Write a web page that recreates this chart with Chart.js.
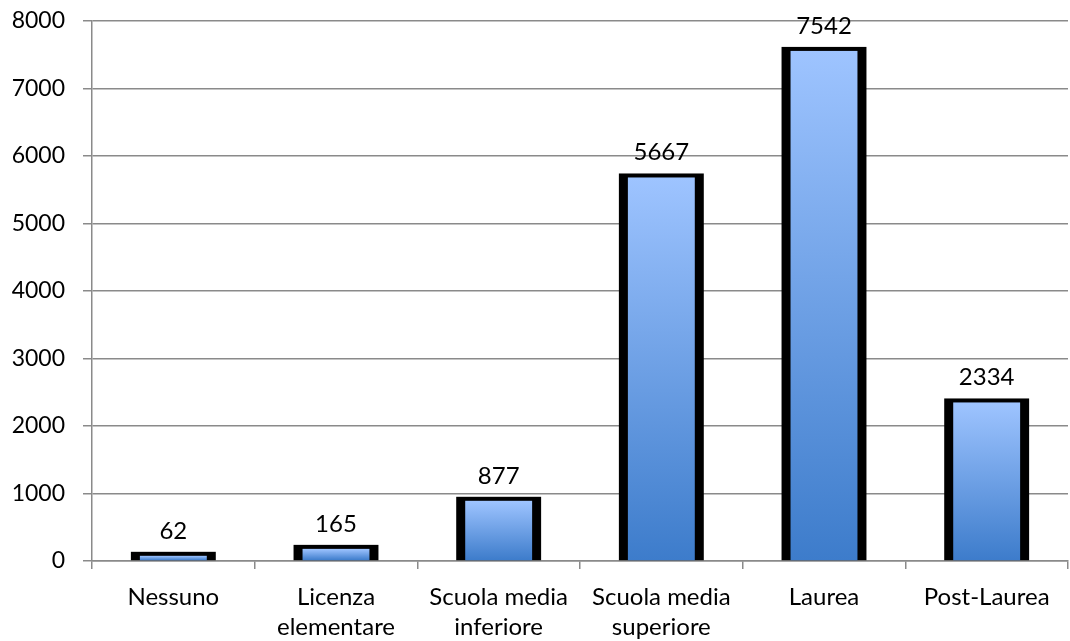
<!DOCTYPE html>
<html>
<head>
<meta charset="utf-8">
<script src="https://cdn.jsdelivr.net/npm/chart.js@4"></script>
<style>
    html, body { margin: 0; padding: 0; background: #fff; }
    #box { width: 1070px; height: 641px; }
</style>
</head>
<body>
<div id="box"><canvas id="grafica"></canvas></div>
<script>
// categorie (etichette asse x) e valori
const categorie = [
    'Nessuno',
    ['Licenza', 'elementare'],
    ['Scuola media', 'inferiore'],
    ['Scuola media', 'superiore'],
    'Laurea',
    'Post-Laurea'
];
const valori = [62, 165, 877, 5667, 7542, 2334];
const tickY = [0, 1000, 2000, 3000, 4000, 5000, 6000, 7000, 8000];

const famiglia = 'Lato, Carlito, Calibri, sans-serif';
const latoLato = 9;   // bordo laterale
const latoSopra = 4;  // bordo superiore

// disegna ogni barra: riquadro nero + gradiente interno + valore sopra
const barreStile = {
    id: 'barreStile',
    afterDatasetsDraw(chart) {
        const ctx = chart.ctx;
        const area = chart.chartArea;
        ctx.save();
        ctx.beginPath();
        ctx.rect(0, 0, chart.width, area.bottom);
        ctx.clip();
        chart.getDatasetMeta(0).data.forEach(bar => {
            const p = bar.getProps(['x', 'y', 'base', 'width']);
            const sx = p.x - p.width / 2;
            const top = p.y - 5;
            ctx.fillStyle = '#000';
            ctx.fillRect(sx, top, p.width, p.base - top);
            const g = ctx.createLinearGradient(0, top + latoSopra, 0, p.base);
            g.addColorStop(0, '#9ec4ff');
            g.addColorStop(1, '#3d7ccb');
            ctx.fillStyle = g;
            ctx.fillRect(sx + latoLato, top + latoSopra, p.width - 2 * latoLato, p.base - top - latoSopra);
        });
        ctx.restore();

        ctx.save();
        ctx.fillStyle = '#000';
        ctx.font = '24px ' + famiglia;
        ctx.textAlign = 'center';
        ctx.textBaseline = 'alphabetic';
        chart.getDatasetMeta(0).data.forEach((bar, i) => {
            const p = bar.getProps(['x', 'y']);
            ctx.fillText(String(valori[i]), p.x, p.y - 5 - 13);
        });
        ctx.restore();
    }
};

const ctx = document.getElementById('grafica').getContext('2d');
new Chart(ctx, {
    type: 'bar',
    data: {
        labels: categorie,
        datasets: [{
            data: valori,
            backgroundColor: 'rgba(0,0,0,0)',
            borderWidth: 0,
            barPercentage: 0.522,
            categoryPercentage: 1
        }]
    },
    options: {
        responsive: true,
        maintainAspectRatio: false,
        animation: false,
        layout: { padding: { left: 0, right: 2, top: 21, bottom: 0 } },
        plugins: {
            legend: { display: false },
            tooltip: { enabled: false }
        },
        scales: {
            x: {
                grid: {
                    offset: true,
                    drawOnChartArea: false,
                    color: '#8a8a8a',
                    lineWidth: 1.5,
                    tickLength: 8
                },
                border: { color: '#8a8a8a', width: 1.5 },
                ticks: {
                    color: '#000',
                    font: { family: famiglia, size: 24, lineHeight: 1.26 },
                    padding: 13,
                    maxRotation: 0,
                    autoSkip: false
                },
                afterFit(scale) {
                    scale.height = 80;
                    scale.paddingLeft = 0;
                    scale.paddingRight = 0;
                }
            },
            y: {
                min: 0,
                max: 8000,
                afterBuildTicks(scale) {
                    scale.ticks = tickY.map(v => ({ value: v }));
                },
                grid: {
                    color: '#8a8a8a',
                    lineWidth: 1.5,
                    tickLength: 9
                },
                border: { color: '#8a8a8a', width: 1.5 },
                ticks: {
                    color: '#000',
                    font: { family: famiglia, size: 23, lineHeight: 1.0 },
                    padding: 18,
                    callback: v => String(v)
                },
                afterFit(scale) {
                    scale.width = 92;
                    scale.paddingTop = 0;
                    scale.paddingBottom = 0;
                }
            }
        }
    },
    plugins: [barreStile]
});
</script>
</body>
</html>
